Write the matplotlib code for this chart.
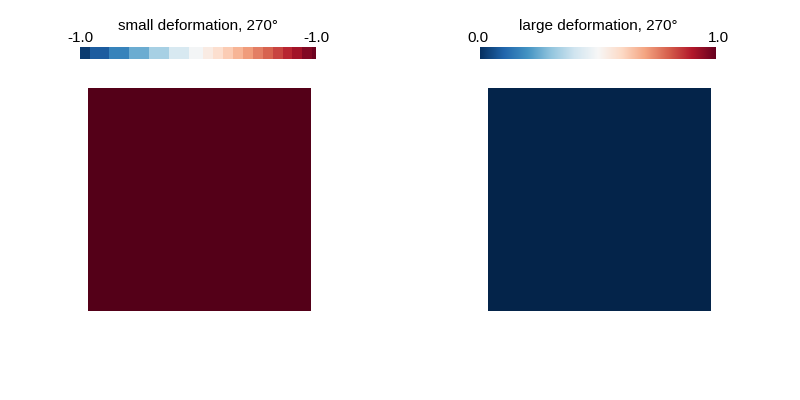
import numpy as np
import matplotlib
matplotlib.use('Agg')
import matplotlib.pyplot as plt
from matplotlib.colors import ListedColormap

plt.rcParams['font.family'] = ['Liberation Sans', 'DejaVu Sans']

# 两个面板的标题和刻度
titles = ['small deformation, 270°', 'large deformation, 270°']
tick_labels = [('-1.0', '-1.0'), ('0.0', '1.0')]
# 方块的填充颜色（标量值映射后）
square_colors = ['#540018', '#04244a']
# 左侧离散色条的分段边界（像素）
seg_edges = [80, 90, 109, 129, 149, 169, 189, 203, 213, 223, 233, 243,
             253, 263, 273, 283, 292, 302, 312, 316]

W, H = 800, 400
fig = plt.figure(figsize=(8, 4), dpi=100)

def px_axes(x0, y0, x1, y1):
    return fig.add_axes([x0 / W, 1 - y1 / H, (x1 - x0) / W, (y1 - y0) / H])

cmap = plt.get_cmap('RdBu_r')

for i in range(2):
    off = 400 * i
    # 方块
    ax = px_axes(88 + off, 88, 311 + off, 311)
    ax.add_patch(plt.Rectangle((0, 0), 1, 1, color=square_colors[i]))
    ax.set_xlim(0, 1)
    ax.set_ylim(0, 1)
    ax.axis('off')

    # 色条
    cax = px_axes(80 + off, 47, 316 + off, 59)
    if i == 0:
        edges = np.array(seg_edges, dtype=float)
        centers = (edges[:-1] + edges[1:]) / 2
        frac = (centers - edges[0]) / (edges[-1] - edges[0])
        cm = ListedColormap([cmap(f) for f in frac])
        cax.pcolormesh(edges, [0, 1], np.arange(len(frac))[None, :],
                       cmap=cm, shading='flat')
        cax.set_xlim(edges[0], edges[-1])
    else:
        grad = np.linspace(0, 1, 256)[None, :]
        cax.imshow(grad, aspect='auto', cmap=cmap, extent=(0, 1, 0, 1))
        cax.set_xlim(0, 1)
    cax.set_ylim(0, 1)
    cax.axis('off')

    fig.text((198 + off) / W, 1 - 26 / H, titles[i], ha='center', va='center',
             fontsize=11, color='black')
    fig.text((80 + off - 13) / W, 1 - 38 / H, tick_labels[i][0], ha='left',
             va='center', fontsize=11, color='black')
    fig.text((316 + off + 13) / W, 1 - 38 / H, tick_labels[i][1], ha='right',
             va='center', fontsize=11, color='black')

fig.savefig('out.png', dpi=100)
